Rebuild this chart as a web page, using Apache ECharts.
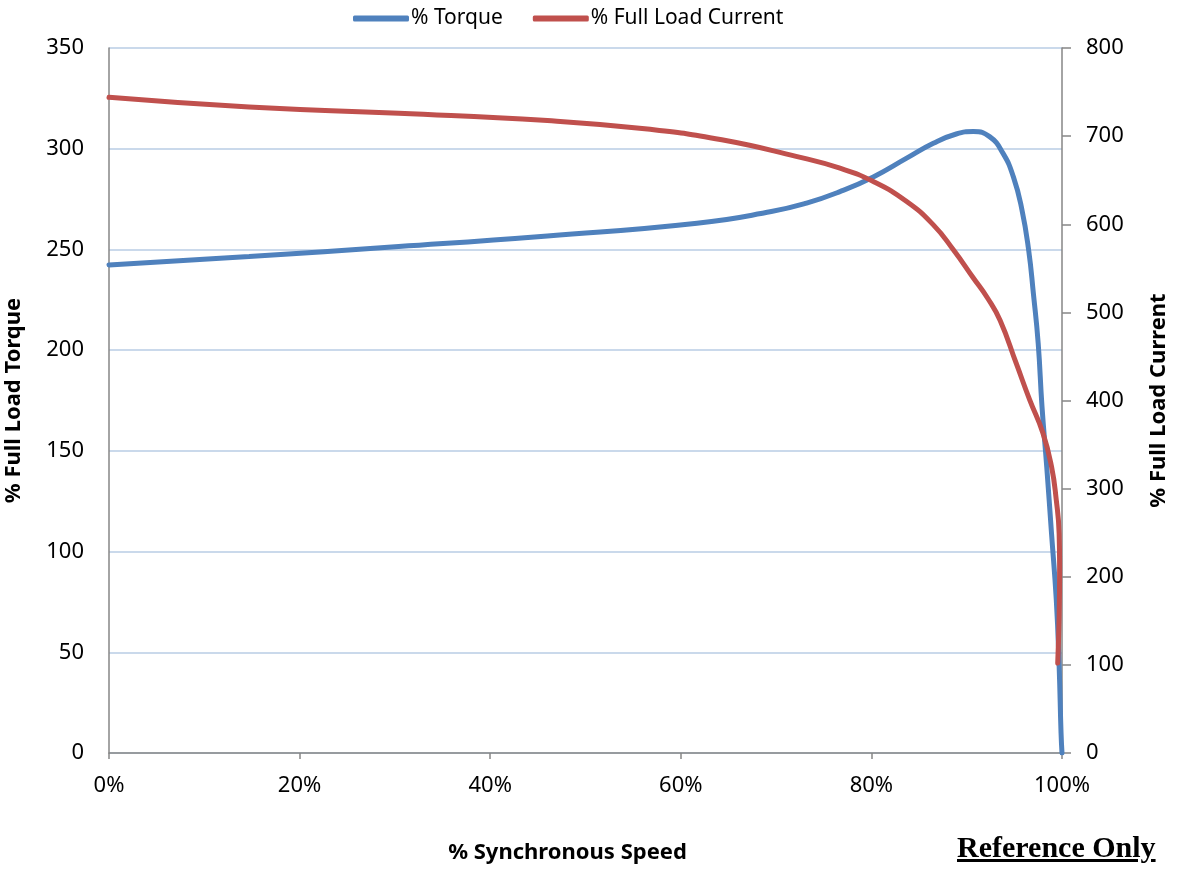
<!DOCTYPE html>
<html>
<head>
<meta charset="utf-8">
<script src="https://cdn.jsdelivr.net/npm/echarts@6/dist/echarts.min.js"></script>
<style>
html,body{margin:0;padding:0;background:#fff;}
#chart{width:1177px;height:872px;}
#ref{position:absolute;left:957px;top:830px;font-family:"Liberation Serif","Times New Roman",serif;font-weight:bold;font-size:30px;text-decoration:underline;color:#000;white-space:nowrap;}
</style>
</head>
<body>
<div id="chart"></div>
<div id="ref">Reference Only</div>
<script>
// % synchronous speed vs % full load torque
const torqueSpeed = [0, 14.7, 30.4, 46, 61.7, 69.5, 73.2, 76.7, 80.2, 83.7, 86.5, 88.9, 90.7, 92.4, 93.8, 94.9, 95.8, 96.5, 97.0, 97.5, 97.9, 98.4, 98.9, 99.4, 99.7, 99.9, 100];
const torqueValues = [242.3, 246.5, 251.4, 256.7, 263, 268.8, 273, 278.7, 286, 295.3, 302.7, 307.3, 308.5, 306, 297.8, 286, 269.6, 249.7, 228, 203.5, 172, 142, 109, 76, 43, 10, 0];
// % synchronous speed vs % full load current
const currentSpeed = [0, 14.7, 30.4, 46, 56.5, 64.3, 72.1, 76.7, 80.2, 83.7, 86.5, 88.6, 90.7, 92.2, 93.5, 95.2, 96.6, 98.0, 98.9, 99.4, 99.7, 99.75, 99.7, 99.55];
const currentValues = [744, 733, 726, 717.7, 708, 695.8, 677, 663.6, 648.5, 625.8, 599.3, 571, 539, 516, 491, 442, 401, 363, 325, 287, 249, 211, 155, 102];

const seriesNames = ['% Torque', '% Full Load Current'];
const xTickFormat = '{value}%';

const font = '"Noto Sans", "Open Sans", sans-serif';
const axisGray = '#868686';

const chart = echarts.init(document.getElementById('chart'));
chart.setOption({
  animation: false,
  textStyle: { fontFamily: font, color: '#000' },
  legend: {
    top: 3, left: 348,
    itemWidth: 56, itemHeight: 6, itemGap: 30,
    icon: 'roundRect',
    textStyle: { fontSize: 21, color: '#000', fontFamily: font, padding: [0, 0, 0, -3] },
    data: seriesNames
  },
  grid: { left: 109, right: 115, top: 48, bottom: 119, outerBoundsMode: 'none', containLabel: false },
  xAxis: {
    type: 'value', min: 0, max: 100, interval: 20,
    name: '% Synchronous Speed', nameLocation: 'middle', nameGap: 89,
    nameTextStyle: { fontSize: 22, fontWeight: 'bold', color: '#000', fontFamily: font, padding: [0, 36, 0, 0] },
    axisLine: { lineStyle: { color: axisGray, width: 1.5 } },
    axisTick: { show: true, length: 6, lineStyle: { color: axisGray, width: 1.5 } },
    axisLabel: { formatter: xTickFormat, fontSize: 22, color: '#000', margin: 22 },
    splitLine: { show: false }
  },
  yAxis: [
    {
      type: 'value', min: 0, max: 350, interval: 50,
      name: '% Full Load Torque', nameLocation: 'middle', nameGap: 84, nameRotate: 90,
      nameTextStyle: { fontSize: 22, fontWeight: 'bold', color: '#000', fontFamily: font },
      axisLine: { show: true, lineStyle: { color: axisGray, width: 1.5 } },
      axisTick: { show: false },
      axisLabel: { fontSize: 22, color: '#000', margin: 25 },
      splitLine: { show: true, lineStyle: { color: '#B9CDE5', width: 1.5 } }
    },
    {
      type: 'value', min: 0, max: 800, interval: 100, position: 'right',
      name: '% Full Load Current', nameLocation: 'middle', nameGap: 86, nameRotate: 90,
      nameTextStyle: { fontSize: 22, fontWeight: 'bold', color: '#000', fontFamily: font },
      axisLine: { show: true, lineStyle: { color: axisGray, width: 1.5 } },
      axisTick: { show: true, length: 9, lineStyle: { color: axisGray, width: 1.5 } },
      axisLabel: { fontSize: 22, color: '#000', margin: 24 },
      splitLine: { show: false }
    }
  ],
  series: [
    {
      name: seriesNames[0], type: 'line', yAxisIndex: 0,
      data: torqueSpeed.map((s, i) => [s, torqueValues[i]]),
      smooth: 0.5, showSymbol: false, symbol: 'none',
      lineStyle: { color: '#4F81BD', width: 5, cap: 'round' },
      itemStyle: { color: '#4F81BD' }
    },
    {
      name: seriesNames[1], type: 'line', yAxisIndex: 1,
      data: currentSpeed.map((s, i) => [s, currentValues[i]]),
      smooth: 0.5, showSymbol: false, symbol: 'none',
      lineStyle: { color: '#C0504D', width: 5, cap: 'round' },
      itemStyle: { color: '#C0504D' }
    }
  ]
});
</script>
</body>
</html>
